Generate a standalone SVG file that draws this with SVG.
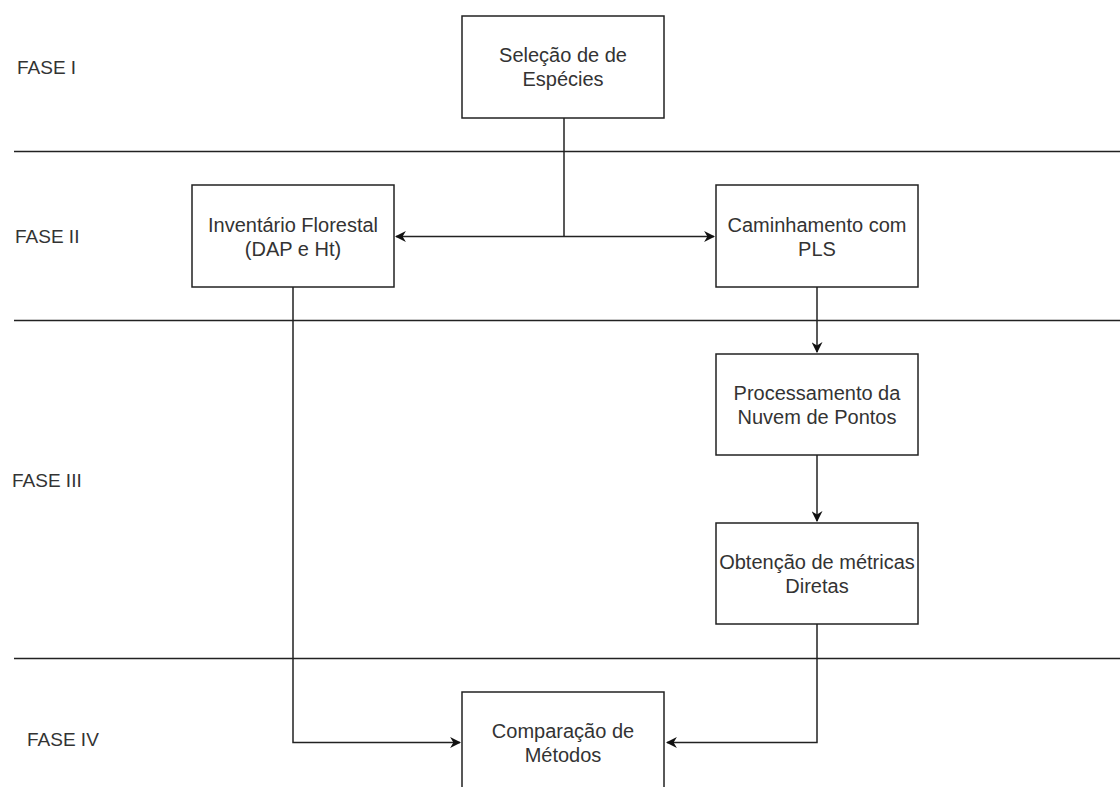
<svg xmlns="http://www.w3.org/2000/svg" width="1120" height="787" viewBox="0 0 1120 787">
<style>
.box{fill:#fff;stroke:#222;stroke-width:1.5}
.lbl{font-family:"Liberation Sans",Arial,sans-serif;font-size:20px;fill:#333;text-anchor:middle}
.phase{font-family:"Liberation Sans",Arial,sans-serif;font-size:19px;fill:#333}
.sep{stroke:#222;stroke-width:1.3}
.con{fill:none;stroke:#222;stroke-width:1.5}
</style>
<defs>
<marker id="arr" viewBox="0 0 10 10" refX="9" refY="5" markerWidth="11" markerHeight="11" markerUnits="userSpaceOnUse" orient="auto">
<path d="M0,0 L10,5 L0,10 L3,5 z" fill="#111"/>
</marker>
</defs>
<rect width="1120" height="787" fill="#fff"/>
<g id="phases">
<line class="sep" x1="14" y1="151.5" x2="1120" y2="151.5"/>
<line class="sep" x1="14" y1="320.5" x2="1120" y2="320.5"/>
<line class="sep" x1="14" y1="658.5" x2="1120" y2="658.5"/>
<text class="phase" x="17" y="74">FASE I</text>
<text class="phase" x="15" y="243">FASE II</text>
<text class="phase" x="12" y="487">FASE III</text>
<text class="phase" x="27" y="746">FASE IV</text>
</g>
<g id="connectors">
<path class="con" d="M564,118 V236.5"/>
<path class="con" d="M564,236.5 H396" marker-end="url(#arr)"/>
<path class="con" d="M564,236.5 H714" marker-end="url(#arr)"/>
<path class="con" d="M293,287 V742.5 H460" marker-end="url(#arr)"/>
<path class="con" d="M817,287 V352" marker-end="url(#arr)"/>
<path class="con" d="M817,455 V521" marker-end="url(#arr)"/>
<path class="con" d="M817,624 V742.5 H667" marker-end="url(#arr)"/>
</g>
<g id="n1"><rect class="box" x="462" y="16" width="202" height="102"/>
<text class="lbl" x="563" y="62">Seleção de de</text><text class="lbl" x="563" y="86">Espécies</text></g>
<g id="n2"><rect class="box" x="192" y="185" width="202" height="102"/>
<text class="lbl" x="293" y="232">Inventário Florestal</text><text class="lbl" x="293" y="256">(DAP e Ht)</text></g>
<g id="n3"><rect class="box" x="716" y="185" width="202" height="102"/>
<text class="lbl" x="817" y="232">Caminhamento com</text><text class="lbl" x="817" y="256">PLS</text></g>
<g id="n4"><rect class="box" x="716" y="354" width="202" height="101"/>
<text class="lbl" x="817" y="400">Processamento da</text><text class="lbl" x="817" y="424">Nuvem de Pontos</text></g>
<g id="n5"><rect class="box" x="716" y="523" width="202" height="101"/>
<text class="lbl" x="817" y="569">Obtenção de métricas</text><text class="lbl" x="817" y="593">Diretas</text></g>
<g id="n6"><rect class="box" x="462" y="692" width="202" height="102"/>
<text class="lbl" x="563" y="738">Comparação de</text><text class="lbl" x="563" y="762">Métodos</text></g>
</svg>
